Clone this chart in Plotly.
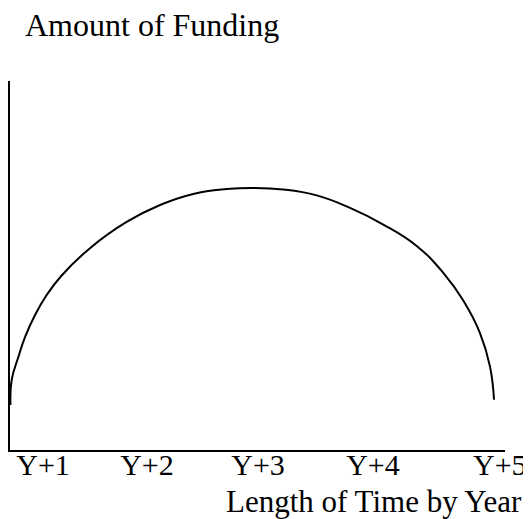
import plotly.graph_objects as go

# Data (time in years, funding in arbitrary units 0-100)
year = [1.004, 1.014, 1.069, 1.124, 1.207, 1.303, 1.427, 1.661, 1.964, 2.240,
        2.515, 2.791, 3.008, 3.259, 3.535, 3.810, 4.085, 4.361, 4.581, 4.746,
        4.884, 4.967, 5.000]
funding = [12.2, 19.0, 25.2, 30.6, 36.6, 42.0, 47.3, 54.7, 61.8, 66.4,
           69.4, 70.7, 71.0, 70.6, 69.0, 65.6, 61.1, 55.3, 48.0, 40.5,
           31.7, 22.6, 13.6]
tick_labels = ["Y+1", "Y+2", "Y+3", "Y+4", "Y+5"]
tick_positions = [1.273, 2.132, 3.050, 4.000, 5.048]

FONT = "Liberation Serif"

fig = go.Figure(go.Scatter(
    x=year, y=funding, mode="lines",
    line=dict(color="black", width=2, shape="spline", smoothing=1.3),
    hoverinfo="skip", showlegend=False))

# The page body has an 8px margin, so the figure is sized to fit the window.
fig.update_layout(
    width=523, height=511,
    margin=dict(l=2, r=26, t=73, b=69),
    paper_bgcolor="white", plot_bgcolor="white",
    font=dict(family=FONT, size=30, color="black"),
    xaxis=dict(range=[1, 5.0909], showgrid=False, zeroline=False,
               showline=True, linecolor="black", linewidth=2,
               tickmode="array", tickvals=tick_positions, ticktext=tick_labels,
               ticks="", ticklabelstandoff=-13,
               tickfont=dict(family=FONT, size=30, color="black"),
               fixedrange=True),
    yaxis=dict(range=[0, 100], showgrid=False, zeroline=False,
               showline=True, linecolor="black", linewidth=2,
               showticklabels=False, ticks="", fixedrange=True),
    annotations=[
        dict(text="Amount of Funding", xref="paper", yref="paper",
             x=(23 - 10) / 495, y=1 + 36 / 369,
             xanchor="left", yanchor="bottom", showarrow=False,
             font=dict(family=FONT, size=32, color="black")),
        dict(text="Length of Time by Year", xref="paper", yref="paper",
             x=(524 - 10) / 495, y=-32 / 369,
             xanchor="right", yanchor="top", showarrow=False,
             font=dict(family=FONT, size=31, color="black")),
    ],
)

fig.write_html("out.html", config={"displayModeBar": False})
